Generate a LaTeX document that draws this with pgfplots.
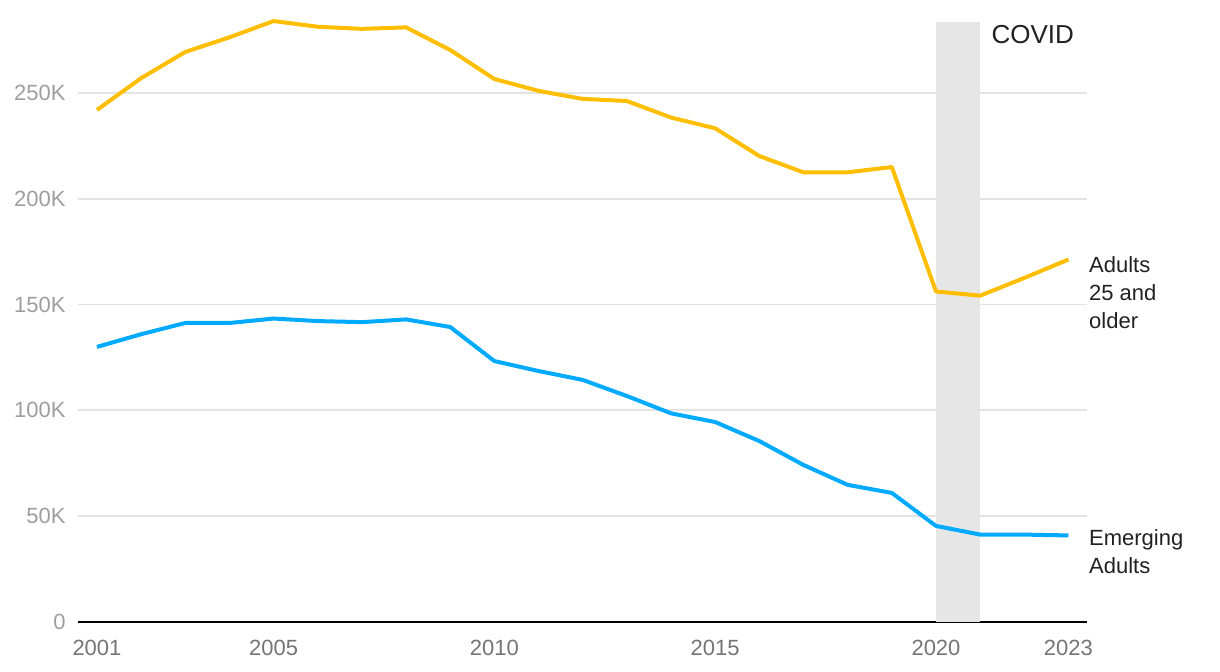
\documentclass[border=0pt]{standalone}
\usepackage{fontspec}
\setmainfont{Liberation Sans}
\usepackage{pgfplots}
\pgfplotsset{compat=1.18}
\definecolor{adultYellow}{HTML}{FFBF00}
\definecolor{emergBlue}{HTML}{00AAFF}
\definecolor{covidGray}{HTML}{E6E6E6}
\definecolor{gridGray}{HTML}{E3E3E3}
\definecolor{ytickGray}{HTML}{9E9E9E}
\definecolor{xtickGray}{HTML}{757575}
\definecolor{labelBlack}{HTML}{212121}

\begin{document}
\begin{tikzpicture}
\begin{axis}[
  scale only axis,
  width=504.5pt, height=300pt,
  xmin=2000.57, xmax=2023.42,
  ymin=0, ymax=283.55,
  axis lines*=left,
  axis x line*=bottom,
  y axis line style={draw=none},
  x axis line style={black, line width=1pt},
  major tick length=0pt,
  xtick={2001,2005,2010,2015,2020,2023},
  xticklabels={2001,2005,2010,2015,2020,2023},
  ytick={0,50,100,150,200,250},
  yticklabels={0,50K,100K,150K,200K,250K},
  ymajorgrids, major grid style={gridGray, line width=0.9pt},
  y tick label style={font=\fontsize{11}{13}\selectfont, color=ytickGray, inner sep=0pt, anchor=east, xshift=-6pt},
  x tick label style={font=\fontsize{11}{13}\selectfont, color=xtickGray, inner sep=0pt, anchor=north, yshift=-9pt},
  clip=false,
]
% COVID band
\addplot[fill=covidGray, draw=none] coordinates {(2020,0) (2020,283.55) (2021,283.55) (2021,0)} -- cycle;

% Adults 25 and older
\addplot[adultYellow, line width=2pt, line join=round] coordinates {
  (2001,242.0) (2002,257.0) (2003,269.4) (2004,276.3) (2005,284.0)
  (2006,281.3) (2007,280.3) (2008,281.0) (2009,270.3) (2010,256.6)
  (2011,251.0) (2012,247.2) (2013,246.2) (2014,238.4) (2015,233.3)
  (2016,220.2) (2017,212.5) (2018,212.5) (2019,215.0) (2020,156.2)
  (2021,154.2) (2022,162.6) (2023,171.3)
};

% Emerging Adults
\addplot[emergBlue, line width=2pt, line join=round] coordinates {
  (2001,130.0) (2002,136.0) (2003,141.3) (2004,141.3) (2005,143.4)
  (2006,142.2) (2007,141.7) (2008,143.0) (2009,139.4) (2010,123.3)
  (2011,118.6) (2012,114.4) (2013,106.8) (2014,98.6) (2015,94.5)
  (2016,85.5) (2017,74.2) (2018,64.8) (2019,61.0) (2020,45.4)
  (2021,41.3) (2022,41.3) (2023,40.9)
};

\node[anchor=north west, inner sep=0pt, align=left, text=labelBlack,
  font=\fontsize{11}{14}\selectfont] at (axis cs:2023.46,172.8) {Adults\\25 and\\older};
\node[anchor=north west, inner sep=0pt, align=left, text=labelBlack,
  font=\fontsize{11}{14}\selectfont] at (axis cs:2023.46,43.7) {Emerging\\Adults};
\node[anchor=north west, inner sep=0pt, text=labelBlack,
  font=\fontsize{13}{15}\selectfont] at (axis cs:2021.25,282.0) {COVID};
\end{axis}
\pgfresetboundingbox
\path (-39pt,-25pt) rectangle (571pt,311pt);
\end{tikzpicture}
\end{document}
